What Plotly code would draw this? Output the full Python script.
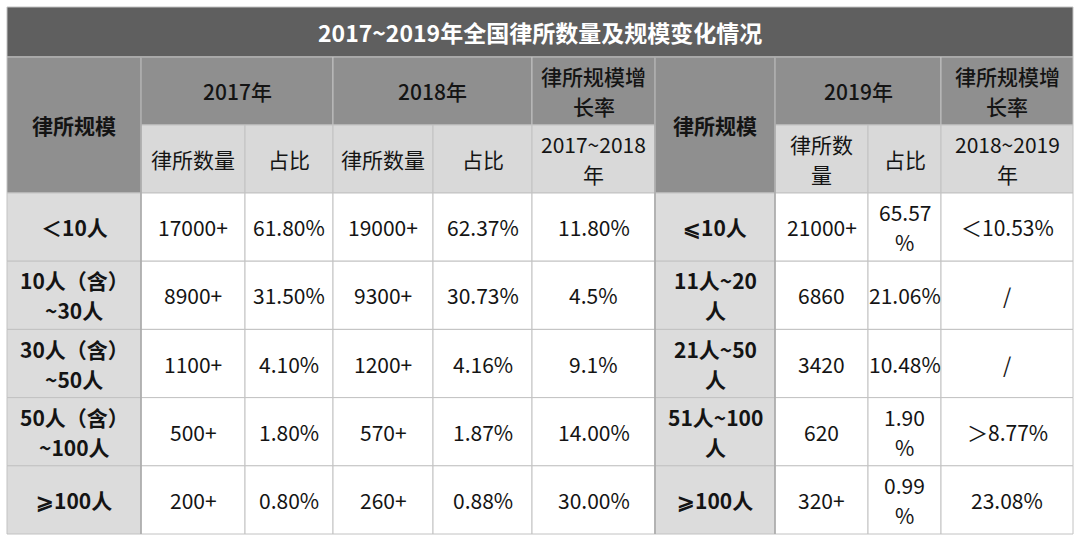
import plotly.graph_objects as go

# ---------------- data ----------------
title = "2017~2019年全国律所数量及规模变化情况"

sizes_a = ["＜10人", "10人（含）\n~30人", "30人（含）\n~50人", "50人（含）\n~100人", "⩾100人"]
count_2017 = ["17000+", "8900+", "1100+", "500+", "200+"]
share_2017 = ["61.80%", "31.50%", "4.10%", "1.80%", "0.80%"]
count_2018 = ["19000+", "9300+", "1200+", "570+", "260+"]
share_2018 = ["62.37%", "30.73%", "4.16%", "1.87%", "0.88%"]
growth_17_18 = ["11.80%", "4.5%", "9.1%", "14.00%", "30.00%"]

sizes_b = ["⩽10人", "11人~20\n人", "21人~50\n人", "51人~100\n人", "⩾100人"]
count_2019 = ["21000+", "6860", "3420", "620", "320+"]
share_2019 = ["65.57\n%", "21.06%", "10.48%", "1.90\n%", "0.99\n%"]
growth_18_19 = ["＜10.53%", "/", "/", "＞8.77%", "23.08%"]

size_header = "律所规模"
year_headers = ["2017年", "2018年", "2019年"]
growth_header = "律所规模增\n长率"
sub_headers_a = ["律所数量", "占比", "律所数量", "占比", "2017~2018\n年"]
sub_headers_b = ["律所数\n量", "占比", "2018~2019\n年"]

# ---------------- layout geometry ----------------
XB = [7, 141, 245, 333, 433, 532, 655, 775, 868, 941, 1073]
YB = [7, 57, 125, 193, 261.2, 329.4, 397.6, 465.8, 534]

FONT = "Noto Sans CJK SC, Noto Sans, sans-serif"
C_TITLE = "#5f5f5f"
C_H1 = "#8f8f8f"
C_H2 = "#d9d9d9"
C_LABEL = "#dcdcdc"
C_LINE = "#c2c2c2"
C_TEXT = "#141414"

fig = go.Figure()
shapes = []
annotations = []


def cell(c0, c1, r0, r1, text, fill, bold=False, size=21, color=C_TEXT, lh=30, weight=None):
    x0, x1 = XB[c0], XB[c1]
    y0, y1 = YB[r0], YB[r1]
    shapes.append(dict(type="rect", xref="x", yref="y", x0=x0, x1=x1, y0=y0, y1=y1,
                       fillcolor=fill, line=dict(color=C_LINE, width=1), layer="below"))
    lines = text.split("\n")
    n = len(lines)
    cx = (x0 + x1) / 2
    cy = (y0 + y1) / 2
    w = weight if weight is not None else ("bold" if bold else "normal")
    for i, ln in enumerate(lines):
        yy = cy + (i - (n - 1) / 2) * lh
        annotations.append(dict(x=cx, y=yy, xref="x", yref="y", text=ln, showarrow=False,
                                xanchor="center", yanchor="middle",
                                font=dict(family=FONT, size=size, color=color, weight=w)))


# title
cell(0, 10, 0, 1, title, C_TITLE, bold=True, size=23, color="white")

# header rows
cell(0, 1, 1, 3, size_header, C_H1, bold=True)
cell(1, 3, 1, 2, year_headers[0], C_H1, weight=500)
cell(3, 5, 1, 2, year_headers[1], C_H1, weight=500)
cell(5, 6, 1, 2, growth_header, C_H1, weight=500)
cell(6, 7, 1, 3, size_header, C_H1, bold=True)
cell(7, 9, 1, 2, year_headers[2], C_H1, weight=500)
cell(9, 10, 1, 2, growth_header, C_H1, weight=500)

for j, t in enumerate(sub_headers_a):
    cell(1 + j, 2 + j, 2, 3, t, C_H2)
for j, t in enumerate(sub_headers_b):
    cell(7 + j, 8 + j, 2, 3, t, C_H2)

# data rows
cols_a = [count_2017, share_2017, count_2018, share_2018, growth_17_18]
cols_b = [count_2019, share_2019, growth_18_19]
for i in range(len(sizes_a)):
    r = 3 + i
    cell(0, 1, r, r + 1, sizes_a[i], C_LABEL, bold=True)
    for j, col in enumerate(cols_a):
        cell(1 + j, 2 + j, r, r + 1, col[i], "white")
    cell(6, 7, r, r + 1, sizes_b[i], C_LABEL, bold=True)
    for j, col in enumerate(cols_b):
        cell(7 + j, 8 + j, r, r + 1, col[i], "white")

# darker separators beside the label columns
for xv in [XB[1], XB[6], XB[7]]:
    shapes.append(dict(type="line", xref="x", yref="y", x0=xv, x1=xv, y0=YB[1], y1=YB[-1],
                       line=dict(color="#a8a8a8", width=1.5), layer="below"))

fig.update_layout(
    width=1080, height=541,
    margin=dict(l=0, r=0, t=0, b=0),
    paper_bgcolor="white", plot_bgcolor="white",
    xaxis=dict(range=[0, 1080], visible=False, fixedrange=True),
    yaxis=dict(range=[541, 0], visible=False, fixedrange=True),
    shapes=shapes, annotations=annotations, showlegend=False,
)

fig.write_html("out.html", config={"displayModeBar": False},
               post_script="document.body.style.margin='0';document.body.style.overflow='hidden';")
